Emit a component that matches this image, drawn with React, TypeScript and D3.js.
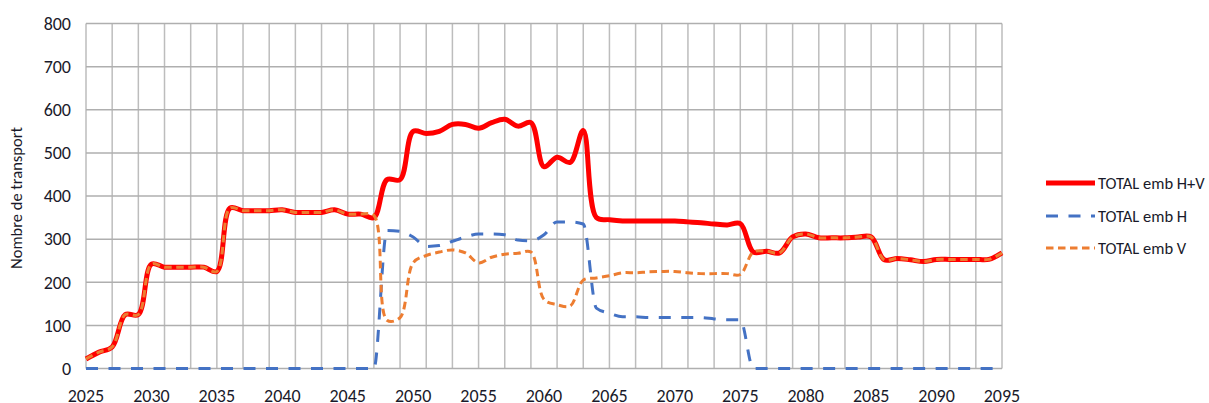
import React from "react";
import * as d3 from "d3";

const years: number[] = d3.range(2025, 2096);

const totalHV: number[] = [
  22, 38, 50, 125, 125, 242, 235, 235, 235, 235, 225, 372, 366, 366, 366, 368, 362, 362, 362, 368,
  358, 358, 350, 438, 438, 550, 545, 550, 566, 566, 557, 570, 578, 562, 570, 468, 490, 478, 552, 350,
  345, 342, 342, 342, 342, 342, 340, 338, 335, 333, 336, 270, 272, 268, 305, 312, 303, 303, 303, 305,
  305, 252, 255, 252, 248, 253, 253, 253, 253, 253, 268,
];

const totalH: number[] = [
  0, 0, 0, 0, 0, 0, 0, 0, 0, 0, 0, 0, 0, 0, 0, 0, 0, 0, 0, 0,
  0, 0, 0, 320, 318, 305, 283, 285, 295, 305, 312, 312, 310, 298, 296, 310, 340, 340, 335, 140,
  128, 120, 120, 118, 118, 118, 118, 118, 115, 113, 113, 0, 0, 0, 0, 0, 0, 0, 0, 0,
  0, 0, 0, 0, 0, 0, 0, 0, 0, 0, 0,
];

const totalV: number[] = [
  22, 38, 50, 125, 125, 242, 235, 235, 235, 235, 225, 372, 366, 366, 366, 368, 362, 362, 362, 368,
  358, 358, 355, 112, 118, 245, 262, 270, 275, 268, 245, 258, 265, 267, 270, 160, 148, 145, 205, 210,
  215, 222, 222, 224, 225, 225, 222, 220, 220, 220, 218, 270, 272, 268, 305, 312, 303, 303, 303, 305,
  305, 252, 255, 252, 248, 253, 253, 253, 253, 253, 268,
];

const yTicks: number[] = [0, 100, 200, 300, 400, 500, 600, 700, 800];
const xTicks: number[] = d3.range(2025, 2096, 5);
const xGrid: number[] = d3.range(2025, 2096, 2);

const seriesNames: string[] = ["TOTAL emb H+V", "TOTAL emb H", "TOTAL emb V"];
const seriesColors: string[] = ["#ff0000", "#4472c4", "#ed7d31"];

export default function App() {
  const x = d3.scaleLinear().domain([2025, 2095]).range([86, 1002]);
  const y = d3.scaleLinear().domain([0, 800]).range([368.5, 23.5]);
  const font = "Carlito, 'Liberation Sans', 'DejaVu Sans', sans-serif";

  const smooth = d3
    .line<number>()
    .x((_, i) => x(years[i]))
    .y((d) => y(d))
    .curve(d3.curveCatmullRom.alpha(0.5));
  const mono = d3
    .line<number>()
    .x((_, i) => x(years[i]))
    .y((d) => y(d))
    .curve(d3.curveMonotoneX);

  const series = [
    { data: totalHV, color: seriesColors[0], width: 5, dash: undefined as string | undefined, gen: smooth },
    { data: totalH, color: seriesColors[1], width: 3, dash: "12,10.5", gen: mono },
    { data: totalV, color: seriesColors[2], width: 3, dash: "7.5,4.5", gen: smooth },
  ];

  const legendY = [183, 216, 248];

  return (
    <svg
      width={1209}
      height={403}
      style={{ position: "absolute", left: 0, top: 0, background: "#fff" }}
    >
      <rect x={0} y={0} width={1209} height={403} fill="#fff" />
      {xGrid.map((g) => (
        <line key={"vx" + g} x1={x(g)} x2={x(g)} y1={y(800)} y2={y(0)} stroke="#bdbdbd" strokeWidth={1.5} />
      ))}
      {yTicks.map((t) => (
        <line key={"hy" + t} x1={x(2025)} x2={x(2095)} y1={y(t)} y2={y(t)} stroke="#afafaf" strokeWidth={1.5} />
      ))}
      {yTicks.map((t) => (
        <text key={"yt" + t} x={71} y={y(t)} dy="0.35em" textAnchor="end" fontSize={18} fontFamily={font} fill="#1a1a2a">
          {t}
        </text>
      ))}
      {xTicks.map((t) => (
        <text key={"xt" + t} x={x(t)} y={402} textAnchor="middle" fontSize={18} fontFamily={font} fill="#1a1a2a">
          {t}
        </text>
      ))}
      <text
        transform={`translate(22,${(y(0) + y(800)) / 2 + 2}) rotate(-90)`}
        textAnchor="middle"
        fontSize={16.5}
        fontFamily={font}
        fill="#1a1a2a"
      >
        Nombre de transport
      </text>
      {series.map((s, i) => (
        <path
          key={"s" + i}
          d={s.gen(s.data) || ""}
          fill="none"
          stroke={s.color}
          strokeWidth={s.width}
          strokeDasharray={s.dash}
          strokeLinejoin="round"
        />
      ))}
      {series.map((s, i) => (
        <g key={"lg" + i}>
          <line
            x1={1046}
            x2={1095}
            y1={legendY[i]}
            y2={legendY[i]}
            stroke={s.color}
            strokeWidth={s.width}
            strokeDasharray={s.dash}
          />
          <text x={1098} y={legendY[i]} dy="0.35em" fontSize={16.5} fontFamily={font} fill="#1a1a2a">
            {seriesNames[i]}
          </text>
        </g>
      ))}
    </svg>
  );
}
